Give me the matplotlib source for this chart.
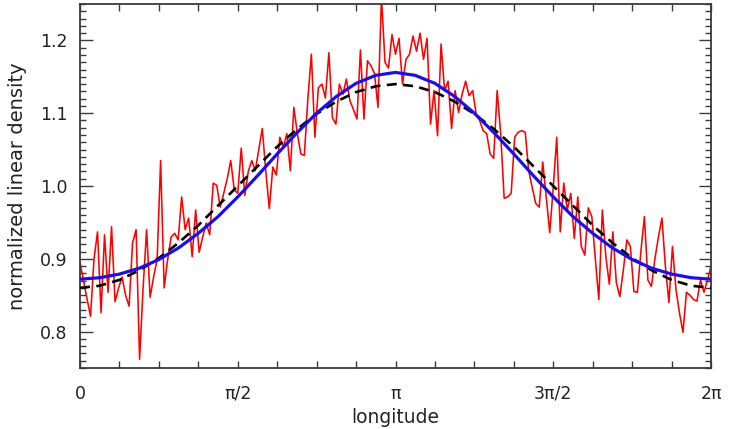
import numpy as np
import matplotlib
matplotlib.use("Agg")
import matplotlib.pyplot as plt
from matplotlib.ticker import MultipleLocator, FixedLocator

# ---- data ----
red_density = [
    0.895, 0.870, 0.845, 0.821, 0.900, 0.937, 0.826, 0.933, 0.854, 0.944,
    0.841, 0.860, 0.875, 0.850, 0.835, 0.922, 0.940, 0.762, 0.860, 0.940,
    0.847, 0.875, 0.899, 1.035, 0.860, 0.899, 0.930, 0.935, 0.926, 0.985,
    0.940, 0.956, 0.903, 0.967, 0.909, 0.930, 0.949, 0.933, 1.004, 1.001,
    0.971, 0.990, 1.010, 1.035, 0.995, 0.990, 1.052, 0.987, 1.020, 1.035,
    1.021, 1.050, 1.079, 1.020, 0.969, 1.026, 1.015, 1.067, 1.053, 1.072,
    1.021, 1.108, 1.072, 1.044, 1.042, 1.120, 1.181, 1.067, 1.135, 1.140,
    1.121, 1.183, 1.094, 1.085, 1.140, 1.126, 1.147, 1.117, 1.105, 1.092,
    1.187, 1.092, 1.172, 1.165, 1.155, 1.108, 1.260, 1.170, 1.162, 1.208,
    1.181, 1.203, 1.140, 1.174, 1.181, 1.206, 1.185, 1.210, 1.174, 1.203,
    1.085, 1.131, 1.069, 1.195, 1.131, 1.144, 1.079, 1.131, 1.101, 1.126,
    1.144, 1.124, 1.131, 1.099, 1.090, 1.076, 1.072, 1.044, 1.038, 1.131,
    1.072, 0.983, 0.985, 0.990, 1.067, 1.074, 1.076, 1.074, 1.021, 0.998,
    0.976, 0.971, 1.033, 0.985, 0.936, 0.998, 1.067, 0.937, 1.004, 0.967,
    0.990, 0.928, 0.985, 0.917, 0.905, 0.970, 0.958, 0.900, 0.844, 0.967,
    0.903, 0.865, 0.937, 0.867, 0.848, 0.885, 0.926, 0.917, 0.855, 0.854,
    0.910, 0.958, 0.871, 0.862, 0.900, 0.930, 0.956, 0.889, 0.840, 0.917,
    0.858, 0.826, 0.799, 0.854, 0.850, 0.844, 0.842, 0.871, 0.854, 0.871,
    0.890,
]

blue_fit = [
    0.872, 0.874, 0.879, 0.887, 0.899, 0.915, 0.935, 0.958, 0.985,
    1.014, 1.044, 1.073, 1.100, 1.123, 1.141, 1.152, 1.156,
    1.152, 1.141, 1.123, 1.100, 1.073, 1.044, 1.014, 0.985,
    0.958, 0.935, 0.915, 0.899, 0.887, 0.879, 0.874, 0.872,
]

black_model = [
    0.860, 0.863, 0.871, 0.884, 0.901, 0.922, 0.946, 0.973, 1.000,
    1.027, 1.054, 1.078, 1.099, 1.116, 1.129, 1.137, 1.140,
    1.137, 1.129, 1.116, 1.099, 1.078, 1.054, 1.027, 1.000,
    0.973, 0.946, 0.922, 0.901, 0.884, 0.871, 0.863, 0.860,
]

x_tick_labels = ["0", "π/2", "π", "3π/2", "2π"]
y_tick_values = [0.8, 0.9, 1.0, 1.1, 1.2]

# ---- figure ----
fig = plt.figure(figsize=(7.30, 4.29), dpi=100)
ax = fig.add_axes([80/730, 1-368/429, 631/730, 364/429])

x_red = np.linspace(0, 2*np.pi, len(red_density))
x_fit = np.linspace(0, 2*np.pi, len(blue_fit))
x_mod = np.linspace(0, 2*np.pi, len(black_model))

ax.plot(x_red, red_density, color="#ff0000", lw=1.15, zorder=2)
ax.plot(x_mod, black_model, color="black", lw=1.9, ls=(0, (3.8, 2.4)), zorder=3)
ax.plot(x_fit, blue_fit, color="#1a10e6", lw=2.3, zorder=4, solid_capstyle="butt")

ax.set_xlim(0, 2*np.pi)
ax.set_ylim(0.75, 1.25)

ax.xaxis.set_major_locator(FixedLocator([k*np.pi/2 for k in range(5)]))
ax.set_xticklabels(x_tick_labels)
ax.xaxis.set_minor_locator(MultipleLocator(np.pi/8))
ax.yaxis.set_major_locator(FixedLocator(y_tick_values))
ax.set_yticklabels([f"{v:.1f}" for v in y_tick_values])
ax.yaxis.set_minor_locator(MultipleLocator(0.01))

axis_col = "#3a3a3a"
for s in ax.spines.values():
    s.set_color(axis_col)
    s.set_linewidth(1.3)

ax.tick_params(axis="both", which="both", direction="in", top=True, right=True,
               color=axis_col, width=1.0, labelcolor="#222222", labelsize=12.5)
ax.tick_params(axis="x", which="major", length=5, pad=12)
ax.tick_params(axis="x", which="minor", length=5)
ax.tick_params(axis="y", which="major", length=9, pad=9)
ax.tick_params(axis="y", which="minor", length=4.5)

ax.set_xlabel("longitude", fontsize=13.5, color="#222222", labelpad=3.5)
ax.set_ylabel("normalized linear density", fontsize=14, color="#222222", labelpad=9)

fig.savefig("out.png", dpi=100)
